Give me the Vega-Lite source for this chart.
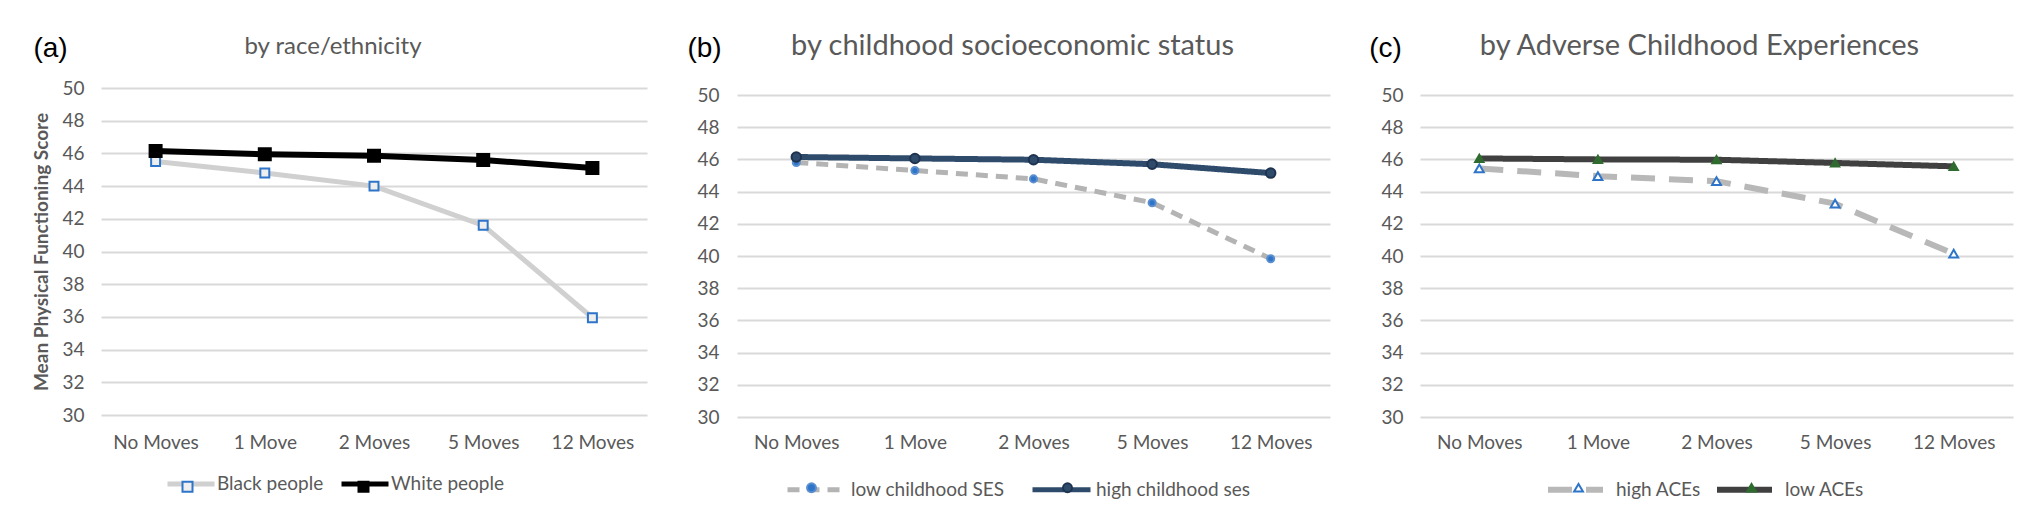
{
  "$schema": "https://vega.github.io/schema/vega-lite/v6.json",
  "background": "white",
  "autosize": {"type": "pad"},
  "padding": {"left": 32, "top": 32, "right": 10, "bottom": 10},
  "bounds": "flush",
  "spacing": 90,
  "datasets": {
    "race": [
      {"group": "Black people", "moves": "No Moves", "value": 45.5},
      {"group": "Black people", "moves": "1 Move", "value": 44.8},
      {"group": "Black people", "moves": "2 Moves", "value": 44.0},
      {"group": "Black people", "moves": "5 Moves", "value": 41.6},
      {"group": "Black people", "moves": "12 Moves", "value": 35.95},
      {"group": "White people", "moves": "No Moves", "value": 46.15},
      {"group": "White people", "moves": "1 Move", "value": 45.95},
      {"group": "White people", "moves": "2 Moves", "value": 45.85},
      {"group": "White people", "moves": "5 Moves", "value": 45.6},
      {"group": "White people", "moves": "12 Moves", "value": 45.1}
    ],
    "ses": [
      {"group": "low childhood SES", "moves": "No Moves", "value": 45.81},
      {"group": "low childhood SES", "moves": "1 Move", "value": 45.31},
      {"group": "low childhood SES", "moves": "2 Moves", "value": 44.79},
      {"group": "low childhood SES", "moves": "5 Moves", "value": 43.31},
      {"group": "low childhood SES", "moves": "12 Moves", "value": 39.83},
      {"group": "high childhood ses", "moves": "No Moves", "value": 46.15},
      {"group": "high childhood ses", "moves": "1 Move", "value": 46.06},
      {"group": "high childhood ses", "moves": "2 Moves", "value": 45.98},
      {"group": "high childhood ses", "moves": "5 Moves", "value": 45.7},
      {"group": "high childhood ses", "moves": "12 Moves", "value": 45.15}
    ],
    "aces": [
      {"group": "high ACEs", "moves": "No Moves", "value": 45.44},
      {"group": "high ACEs", "moves": "1 Move", "value": 44.96},
      {"group": "high ACEs", "moves": "2 Moves", "value": 44.65},
      {"group": "high ACEs", "moves": "5 Moves", "value": 43.25},
      {"group": "high ACEs", "moves": "12 Moves", "value": 40.14},
      {"group": "low ACEs", "moves": "No Moves", "value": 46.06},
      {"group": "low ACEs", "moves": "1 Move", "value": 46.0},
      {"group": "low ACEs", "moves": "2 Moves", "value": 45.98},
      {"group": "low ACEs", "moves": "5 Moves", "value": 45.78},
      {"group": "low ACEs", "moves": "12 Moves", "value": 45.57}
    ]
  },
  "hconcat": [
    {
      "data": {"name": "race"},
      "width": 546,
      "height": 327,
      "title": {"text": "by race/ethnicity", "fontSize": 24, "dx": -41, "offset": -25, "anchor": "middle", "frame": "group"},
      "layer": [
        {
          "mark": {"type": "line", "strokeCap": "butt"},
          "encoding": {
            "x": {"field": "moves", "type": "ordinal", "sort": ["No Moves", "1 Move", "2 Moves", "5 Moves", "12 Moves"],
                  "scale": {"type": "point", "padding": 0.5, "domain": ["No Moves", "1 Move", "2 Moves", "5 Moves", "12 Moves"]},
                  "axis": {"orient": "bottom", "title": null, "labelAngle": 0, "labelPadding": 18, "grid": false, "labelOverlap": false}},
            "y": {"field": "value", "type": "quantitative",
                  "scale": {"domain": [30, 50], "nice": false, "zero": false},
                  "axis": {"values": [30, 32, 34, 36, 38, 40, 42, 44, 46, 48, 50], "tickCount": 11, "labelOverlap": false, "grid": true, "labelPadding": 17,
                           "title": "Mean Physical Functioning Score", "titleFontSize": 19, "titleFontWeight": "bold", "titleColor": "#595959", "titlePadding": 10}},
            "color": {"field": "group", "type": "nominal",
                      "scale": {"domain": ["Black people", "White people"], "range": ["#d0d0d0", "#000000"]},
                      "legend": {"orient": "none", "legendX": 64, "legendY": 370, "direction": "horizontal", "title": null,
                                 "symbolType": "stroke", "symbolSize": 2209, "symbolStrokeWidth": 5, "labelOffset": 0, "columnPadding": 7}},
            "strokeWidth": {"field": "group", "type": "ordinal", "scale": {"domain": ["Black people", "White people"], "range": [5, 6]}, "legend": null}
          }
        },
        {
          "mark": {"type": "point", "filled": true, "opacity": 1, "strokeWidth": 2},
          "encoding": {
            "x": {"field": "moves", "type": "ordinal", "sort": ["No Moves", "1 Move", "2 Moves", "5 Moves", "12 Moves"],
                  "axis": {"orient": "top", "labels": false, "ticks": false, "domain": false, "grid": false, "title": "(a)",
                           "titleFont": "Liberation Sans", "titleFontSize": 28, "titleFontWeight": "normal", "titleColor": "#000000",
                           "titleX": -51, "titleY": -40, "titleAlign": "center", "titleBaseline": "middle", "titleAngle": 0}},
            "y": {"field": "value", "type": "quantitative",
                  "axis": {"values": [30, 32, 34, 36, 38, 40, 42, 44, 46, 48, 50], "tickCount": 11, "labelOverlap": false, "grid": true, "labelPadding": 17,
                           "title": "Mean Physical Functioning Score", "titleFontSize": 19, "titleFontWeight": "bold", "titleColor": "#595959", "titlePadding": 10}},
            "shape": {"field": "group", "type": "nominal", "scale": {"domain": ["Black people", "White people"], "range": ["square", "square"]},
                      "legend": {"orient": "none", "legendX": 77, "legendY": 389, "direction": "horizontal", "title": null, "symbolSize": 100,
                                 "symbolStrokeWidth": 2, "labelOffset": 0, "columnPadding": 157, "labelExpr": "''", "zindex": 2}},
            "fill": {"field": "group", "type": "nominal", "scale": {"domain": ["Black people", "White people"], "range": ["#eeeeee", "#000000"]},
                     "legend": {"orient": "none", "legendX": 77, "legendY": 389, "direction": "horizontal", "title": null, "symbolSize": 100,
                                "symbolStrokeWidth": 2, "labelOffset": 0, "columnPadding": 157, "labelExpr": "''", "zindex": 2}},
            "stroke": {"field": "group", "type": "nominal", "scale": {"domain": ["Black people", "White people"], "range": ["#2e75c9", "#000000"]},
                       "legend": {"orient": "none", "legendX": 77, "legendY": 389, "direction": "horizontal", "title": null, "symbolSize": 100,
                                  "symbolStrokeWidth": 2, "labelOffset": 0, "columnPadding": 157, "labelExpr": "''", "zindex": 2}},
            "size": {"field": "group", "type": "ordinal", "scale": {"domain": ["Black people", "White people"], "range": [80, 144]}, "legend": null}
          }
        }
      ],
      "resolve": {"axis": {"x": "independent"}, "legend": {"color": "independent", "shape": "independent", "fill": "independent", "stroke": "independent"}}
    },
    {
      "data": {"name": "ses"},
      "width": 593,
      "height": 329,
      "title": {"text": "by childhood socioeconomic status", "fontSize": 29, "dx": -21, "offset": -27, "anchor": "middle", "frame": "group"},
      "layer": [
        {
          "mark": {"type": "line", "strokeCap": "butt"},
          "encoding": {
            "x": {"field": "moves", "type": "ordinal", "sort": ["No Moves", "1 Move", "2 Moves", "5 Moves", "12 Moves"],
                  "scale": {"type": "point", "padding": 0.5, "domain": ["No Moves", "1 Move", "2 Moves", "5 Moves", "12 Moves"]},
                  "axis": {"orient": "bottom", "title": null, "labelAngle": 0, "labelPadding": 16, "grid": false, "labelOverlap": false}},
            "y": {"field": "value", "type": "quantitative",
                  "scale": {"domain": [30, 50.435], "nice": false, "zero": false},
                  "axis": {"values": [30, 32, 34, 36, 38, 40, 42, 44, 46, 48, 50], "tickCount": 11, "labelOverlap": false, "grid": true, "labelPadding": 18, "title": null}},
            "color": {"field": "group", "type": "nominal",
                      "scale": {"domain": ["low childhood SES", "high childhood ses"], "range": ["#b4b4b4", "#2f4b6c"]},
                      "legend": {"orient": "none", "legendX": 48, "legendY": 370, "direction": "horizontal", "title": null,
                                 "symbolType": "stroke", "symbolSize": 3364, "symbolStrokeWidth": 5, "labelOffset": 3, "columnPadding": 17}},
            "strokeDash": {"field": "group", "type": "nominal",
                           "scale": {"domain": ["low childhood SES", "high childhood ses"], "range": [[12, 8], [1, 0]]},
                           "legend": {"orient": "none", "legendX": 48, "legendY": 370, "direction": "horizontal", "title": null,
                                      "symbolType": "stroke", "symbolSize": 3364, "symbolStrokeWidth": 5, "labelOffset": 3, "columnPadding": 17}},
            "strokeWidth": {"field": "group", "type": "ordinal", "scale": {"domain": ["low childhood SES", "high childhood ses"], "range": [5, 6]}, "legend": null}
          }
        },
        {
          "mark": {"type": "point", "filled": true, "opacity": 1, "strokeWidth": 2},
          "encoding": {
            "x": {"field": "moves", "type": "ordinal", "sort": ["No Moves", "1 Move", "2 Moves", "5 Moves", "12 Moves"],
                  "axis": {"orient": "top", "labels": false, "ticks": false, "domain": false, "grid": false, "title": "(b)",
                           "titleFont": "Liberation Sans", "titleFontSize": 28, "titleFontWeight": "normal", "titleColor": "#000000",
                           "titleX": -33, "titleY": -40, "titleAlign": "center", "titleBaseline": "middle", "titleAngle": 0}},
            "y": {"field": "value", "type": "quantitative",
                  "axis": {"values": [30, 32, 34, 36, 38, 40, 42, 44, 46, 48, 50], "tickCount": 11, "labelOverlap": false, "grid": true, "labelPadding": 18, "title": null}},
            "shape": {"field": "group", "type": "nominal", "scale": {"domain": ["low childhood SES", "high childhood ses"], "range": ["circle", "circle"]},
                      "legend": {"orient": "none", "legendX": 65, "legendY": 390, "direction": "horizontal", "title": null, "symbolSize": 80,
                                 "symbolStrokeWidth": 2, "labelOffset": 0, "columnPadding": 237, "labelExpr": "''", "zindex": 2}},
            "fill": {"field": "group", "type": "nominal", "scale": {"domain": ["low childhood SES", "high childhood ses"], "range": ["#2e75c9", "#2f4b6c"]},
                     "legend": {"orient": "none", "legendX": 65, "legendY": 390, "direction": "horizontal", "title": null, "symbolSize": 80,
                                "symbolStrokeWidth": 2, "labelOffset": 0, "columnPadding": 237, "labelExpr": "''", "zindex": 2}},
            "stroke": {"field": "group", "type": "nominal", "scale": {"domain": ["low childhood SES", "high childhood ses"], "range": ["#5b8fd0", "#1e3350"]},
                       "legend": {"orient": "none", "legendX": 65, "legendY": 390, "direction": "horizontal", "title": null, "symbolSize": 80,
                                  "symbolStrokeWidth": 2, "labelOffset": 0, "columnPadding": 237, "labelExpr": "''", "zindex": 2}},
            "size": {"field": "group", "type": "ordinal", "scale": {"domain": ["low childhood SES", "high childhood ses"], "range": [50, 90]}, "legend": null}
          }
        }
      ],
      "resolve": {"axis": {"x": "independent"}, "legend": {"color": "independent", "strokeDash": "independent", "shape": "independent", "fill": "independent", "stroke": "independent"}}
    },
    {
      "data": {"name": "aces"},
      "width": 593,
      "height": 329,
      "title": {"text": "by Adverse Childhood Experiences", "fontSize": 29, "dx": -17, "offset": -27, "anchor": "middle", "frame": "group"},
      "layer": [
        {
          "mark": {"type": "line", "strokeCap": "butt"},
          "encoding": {
            "x": {"field": "moves", "type": "ordinal", "sort": ["No Moves", "1 Move", "2 Moves", "5 Moves", "12 Moves"],
                  "scale": {"type": "point", "padding": 0.5, "domain": ["No Moves", "1 Move", "2 Moves", "5 Moves", "12 Moves"]},
                  "axis": {"orient": "bottom", "title": null, "labelAngle": 0, "labelPadding": 16, "grid": false, "labelOverlap": false}},
            "y": {"field": "value", "type": "quantitative",
                  "scale": {"domain": [30, 50.435], "nice": false, "zero": false},
                  "axis": {"values": [30, 32, 34, 36, 38, 40, 42, 44, 46, 48, 50], "tickCount": 11, "labelOverlap": false, "grid": true, "labelPadding": 17, "title": null}},
            "color": {"field": "group", "type": "nominal",
                      "scale": {"domain": ["high ACEs", "low ACEs"], "range": ["#b8b8b8", "#404040"]},
                      "legend": {"orient": "none", "legendX": 125, "legendY": 371, "direction": "horizontal", "title": null,
                                 "symbolType": "stroke", "symbolSize": 3025, "symbolStrokeWidth": 6, "labelOffset": 10, "columnPadding": 4}},
            "strokeDash": {"field": "group", "type": "nominal",
                           "scale": {"domain": ["high ACEs", "low ACEs"], "range": [[24, 14], [1, 0]]},
                           "legend": {"orient": "none", "legendX": 125, "legendY": 371, "direction": "horizontal", "title": null,
                                      "symbolType": "stroke", "symbolSize": 3025, "symbolStrokeWidth": 6, "labelOffset": 10, "columnPadding": 4}},
            "strokeWidth": {"field": "group", "type": "ordinal", "scale": {"domain": ["high ACEs", "low ACEs"], "range": [6, 6]}, "legend": null}
          }
        },
        {
          "mark": {"type": "point", "filled": true, "opacity": 1, "strokeWidth": 2},
          "encoding": {
            "x": {"field": "moves", "type": "ordinal", "sort": ["No Moves", "1 Move", "2 Moves", "5 Moves", "12 Moves"],
                  "axis": {"orient": "top", "labels": false, "ticks": false, "domain": false, "grid": false, "title": "(c)",
                           "titleFont": "Liberation Sans", "titleFontSize": 28, "titleFontWeight": "normal", "titleColor": "#000000",
                           "titleX": -35, "titleY": -40, "titleAlign": "center", "titleBaseline": "middle", "titleAngle": 0}},
            "y": {"field": "value", "type": "quantitative",
                  "axis": {"values": [30, 32, 34, 36, 38, 40, 42, 44, 46, 48, 50], "tickCount": 11, "labelOverlap": false, "grid": true, "labelPadding": 17, "title": null}},
            "shape": {"field": "group", "type": "nominal", "scale": {"domain": ["high ACEs", "low ACEs"], "range": ["triangle-up", "triangle-up"]},
                      "legend": {"orient": "none", "legendX": 149, "legendY": 390, "direction": "horizontal", "title": null, "symbolSize": 80,
                                 "symbolStrokeWidth": 2, "labelOffset": 0, "columnPadding": 154, "labelExpr": "''", "zindex": 2}},
            "fill": {"field": "group", "type": "nominal", "scale": {"domain": ["high ACEs", "low ACEs"], "range": ["#ffffff", "#2f6b2f"]},
                     "legend": {"orient": "none", "legendX": 149, "legendY": 390, "direction": "horizontal", "title": null, "symbolSize": 80,
                                "symbolStrokeWidth": 2, "labelOffset": 0, "columnPadding": 154, "labelExpr": "''", "zindex": 2}},
            "stroke": {"field": "group", "type": "nominal", "scale": {"domain": ["high ACEs", "low ACEs"], "range": ["#2e75c9", "#2f6b2f"]},
                       "legend": {"orient": "none", "legendX": 149, "legendY": 390, "direction": "horizontal", "title": null, "symbolSize": 80,
                                  "symbolStrokeWidth": 2, "labelOffset": 0, "columnPadding": 154, "labelExpr": "''", "zindex": 2}},
            "size": {"field": "group", "type": "ordinal", "scale": {"domain": ["high ACEs", "low ACEs"], "range": [80, 70]}, "legend": null}
          }
        }
      ],
      "resolve": {"axis": {"x": "independent"}, "legend": {"color": "independent", "strokeDash": "independent", "shape": "independent", "fill": "independent", "stroke": "independent"}}
    }
  ],
  "resolve": {
    "scale": {"x": "independent", "y": "independent", "color": "independent", "strokeDash": "independent", "strokeWidth": "independent",
              "shape": "independent", "fill": "independent", "stroke": "independent", "size": "independent"},
    "legend": {"color": "independent", "strokeDash": "independent", "shape": "independent", "fill": "independent", "stroke": "independent"}
  },
  "config": {
    "font": "Lato",
    "view": {"stroke": null},
    "axis": {"labelFont": "Lato", "labelFontSize": 19, "labelColor": "#595959", "domain": false, "ticks": false,
             "gridColor": "#d9d9d9", "gridWidth": 2, "gridOpacity": 1, "titleFont": "Lato"},
    "legend": {"labelFont": "Lato", "labelFontSize": 19, "labelColor": "#595959", "padding": 0, "symbolOpacity": 1, "labelLimit": 400},
    "title": {"font": "Lato", "color": "#595959", "fontWeight": "normal"}
  }
}
